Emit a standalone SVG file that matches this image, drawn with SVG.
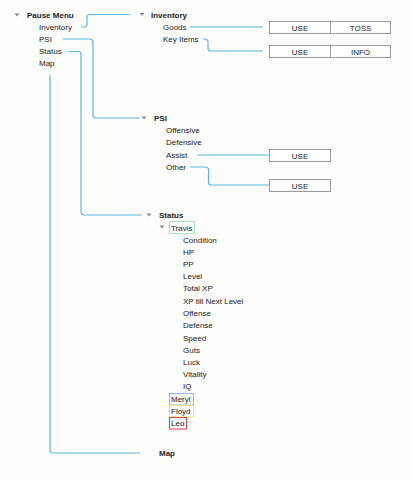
<svg xmlns="http://www.w3.org/2000/svg" width="412" height="480" viewBox="0 0 412 480">
<style>
text{font-family:"Liberation Sans",Arial,sans-serif;font-size:8px;fill:#222}
.b{font-weight:bold}
.c{text-anchor:middle}
.tri{fill:#8a8a8a}
.conn path{fill:none;stroke:#5ab6de;stroke-width:1.2}
.box{fill:#fff;stroke:#999;stroke-width:1}
</style>
<defs>
<path id="tri" class="tri" d="M-2.5,-1.5 L2.5,-1.5 L0,1.5 Z"/>
</defs>
<rect width="412" height="480" fill="#fdfdfc"/>
<g class="conn" id="connectors">
<path d="M81,27 H84 Q87,27 87,24 V17.5 Q87,14.5 90,14.5 H130"/>
<path d="M63,39 H90 Q93,39 93,42 V115 Q93,118 96,118 H140"/>
<path d="M69,51.5 H78 Q81,51.5 81,54.5 V212 Q81,215 84,215 H142"/>
<path d="M50,75 V450 Q50,453 53,453 H140"/>
<path d="M190,27 H263"/>
<path d="M203,39 H205 Q208,39 208,42 V48 Q208,51 211,51 H263"/>
<path d="M197,155 H269"/>
<path d="M190,167 H205 Q208.5,167 208.5,170 V182 Q208.5,185 211.5,185 H269"/>
</g>
<g id="pause-menu">
<use href="#tri" x="17" y="15"/>
<text class="b" x="27" y="18">Pause Menu</text>
<text x="39" y="30">Inventory</text>
<text x="39" y="42">PSI</text>
<text x="39" y="54">Status</text>
<text x="39" y="66">Map</text>
</g>
<g id="inventory">
<use href="#tri" x="142" y="14.5"/>
<text class="b" x="151" y="18">Inventory</text>
<text x="163" y="30">Goods</text>
<text x="163" y="42">Key Items</text>
</g>
<g id="goods-actions">
<rect class="box" x="269.5" y="21.5" width="61" height="12"/>
<rect class="box" x="330.5" y="21.5" width="60" height="12"/>
<text class="c" x="300" y="30.5">USE</text>
<text class="c" x="360.5" y="30.5">TOSS</text>
</g>
<g id="keyitems-actions">
<rect class="box" x="269.5" y="45.5" width="61" height="12"/>
<rect class="box" x="330.5" y="45.5" width="60" height="12"/>
<text class="c" x="300" y="54.5">USE</text>
<text class="c" x="360.5" y="54.5">INFO</text>
</g>
<g id="psi">
<use href="#tri" x="144" y="118"/>
<text class="b" x="154" y="121">PSI</text>
<text x="166" y="133">Offensive</text>
<text x="166" y="145">Defensive</text>
<text x="166" y="158">Assist</text>
<text x="166" y="170">Other</text>
</g>
<g id="assist-actions">
<rect class="box" x="269.5" y="149.5" width="61" height="12"/>
<text class="c" x="300" y="158.5">USE</text>
</g>
<g id="other-actions">
<rect class="box" x="269.5" y="179.5" width="61" height="12"/>
<text class="c" x="300" y="188.5">USE</text>
</g>
<g id="status">
<use href="#tri" x="149" y="215"/>
<text class="b" x="159" y="218">Status</text>
<use href="#tri" x="162" y="227"/>
<rect x="169.5" y="221.5" width="25" height="12" fill="none" stroke="#a8e6b8" stroke-width="1"/>
<text x="171" y="230.5">Travis</text>
<text x="183" y="243">Condition</text>
<text x="183" y="255">HP</text>
<text x="183" y="267">PP</text>
<text x="183" y="279">Level</text>
<text x="183" y="291">Total XP</text>
<text x="183" y="304">XP till Next Level</text>
<text x="183" y="316">Offense</text>
<text x="183" y="328">Defense</text>
<text x="183" y="341">Speed</text>
<text x="183" y="353">Guts</text>
<text x="183" y="365">Luck</text>
<text x="183" y="377">Vitality</text>
<text x="183" y="389">IQ</text>
<rect x="169.5" y="393.5" width="24" height="11.5" fill="none" stroke="#8fb8f0" stroke-width="1"/>
<text x="171" y="402">Meryl</text>
<rect x="169.5" y="405.5" width="24" height="11.5" fill="none" stroke="#f0e870" stroke-width="1"/>
<text x="171" y="414">Floyd</text>
<rect x="169.5" y="417.5" width="17" height="11.5" fill="none" stroke="#e84040" stroke-width="1"/>
<text x="171" y="426">Leo</text>
</g>
<g id="map">
<text class="b" x="159" y="456">Map</text>
</g>
</svg>
